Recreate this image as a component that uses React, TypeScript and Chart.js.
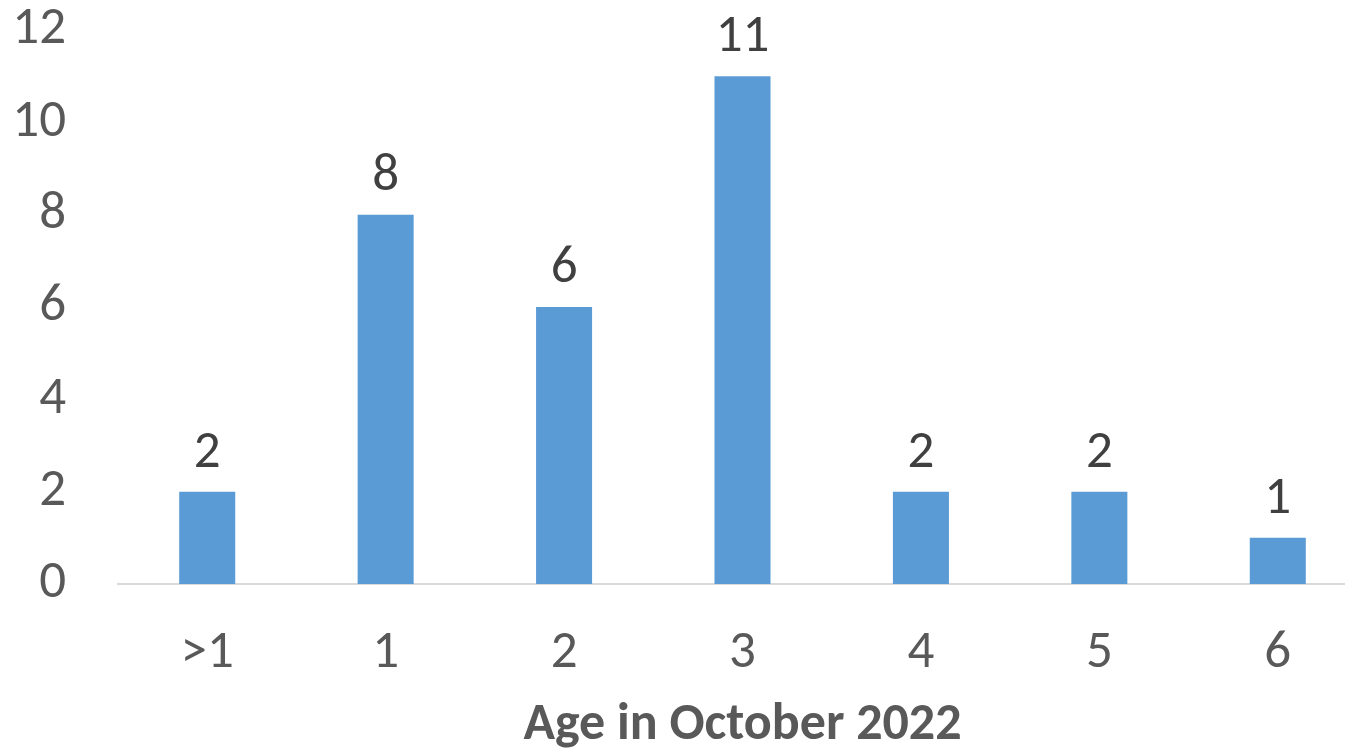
import React, { useEffect, useRef } from "react";
import { Chart, registerables } from "chart.js";

Chart.register(...registerables);

const categories = [">1", "1", "2", "3", "4", "5", "6"];
const counts = [2, 8, 6, 11, 2, 2, 1];
const yTicks = [0, 2, 4, 6, 8, 10, 12];
const xTitle = "Age in October 2022";

const FONT = "Carlito, Calibri, 'Open Sans', sans-serif";

const dataLabels = {
  id: "dataLabels",
  afterDatasetsDraw(chart: any) {
    const ctx = chart.ctx;
    const meta = chart.getDatasetMeta(0);
    ctx.save();
    ctx.fillStyle = "#404040";
    ctx.font = `53px ${FONT}`;
    ctx.textAlign = "center";
    ctx.textBaseline = "alphabetic";
    meta.data.forEach((bar: any, i: number) => {
      ctx.fillText(String(counts[i]), bar.x, bar.y - 25);
    });
    ctx.restore();
  },
};

export default function App() {
  const ref = useRef<HTMLCanvasElement | null>(null);
  useEffect(() => {
    if (!ref.current) return;
    const chart = new Chart(ref.current, {
      type: "bar",
      data: {
        labels: categories,
        datasets: [
          {
            data: counts,
            backgroundColor: "#5B9BD5",
            borderWidth: 0,
            categoryPercentage: 1,
            barPercentage: 0.314,
          },
        ],
      },
      options: {
        responsive: false,
        animation: false,
        layout: { padding: { top: 30, right: 0, bottom: 0, left: 0 } },
        plugins: {
          legend: { display: false },
          tooltip: { enabled: false },
          title: { display: false },
        },
        scales: {
          x: {
            grid: { display: false, drawTicks: false, tickLength: 0 },
            border: { display: true, color: "#D9D9D9", width: 2 },
            ticks: {
              color: "#595959",
              font: { family: FONT, size: 53 },
              padding: 38,
              maxRotation: 0,
              autoSkip: false,
            },
            title: {
              display: true,
              text: xTitle,
              color: "#595959",
              font: { family: FONT, size: 52, weight: "bold", lineHeight: 1 },
              padding: { top: 0, bottom: 0 },
            },
            afterFit: (scale: any) => {
              scale.height = 168;
            },
          },
          y: {
            min: 0,
            max: 12,
            grid: { display: false, drawTicks: false, tickLength: 0 },
            border: { display: false },
            afterBuildTicks: (scale: any) => {
              scale.ticks = yTicks.map((v) => ({ value: v }));
            },
            ticks: {
              color: "#595959",
              font: { family: FONT, size: 53 },
              padding: 52,
            },
            afterFit: (scale: any) => {
              scale.width = 118;
              scale.paddingTop = 0;
              scale.paddingBottom = 0;
            },
          },
        },
      },
      plugins: [dataLabels],
    });
    return () => chart.destroy();
  }, []);

  return (
    <div style={{ position: "fixed", left: 0, top: 0, width: 1345, height: 752, overflow: "hidden", background: "#fff" }}>
      <canvas ref={ref} width={1367} height={752} style={{ display: "block" }} />
    </div>
  );
}
